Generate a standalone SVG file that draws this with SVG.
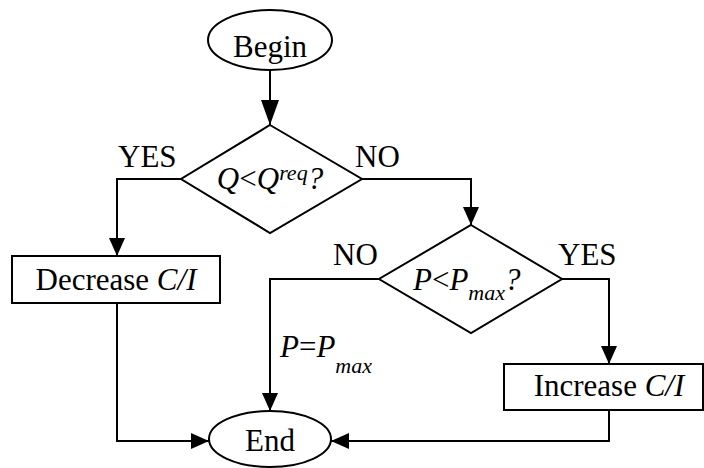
<svg xmlns="http://www.w3.org/2000/svg" width="704" height="468" viewBox="0 0 704 468">
<style>
.s{fill:#fff;stroke:#000;stroke-width:2}
.c{fill:none;stroke:#000;stroke-width:2}
.t{font-family:"Liberation Serif","Times New Roman",serif;font-size:31px;fill:#000}
.i{font-style:italic}
</style>
<defs>
<marker id="a" markerUnits="userSpaceOnUse" markerWidth="18" markerHeight="16" viewBox="0 0 18 16" refX="18" refY="8" orient="auto"><path d="M0,0L18,8L0,16Z" fill="#000"/></marker>
<marker id="b" markerUnits="userSpaceOnUse" markerWidth="25" markerHeight="18" viewBox="0 0 25 18" refX="25" refY="9" orient="auto"><path d="M0,0L25,9L0,18Z" fill="#000"/></marker>
</defs>
<g id="connectors">
<path class="c" d="M270,70V125" marker-end="url(#b)"/>
<path class="c" d="M181,179H117V256" marker-end="url(#a)"/>
<path class="c" d="M362,179H471V225" marker-end="url(#a)"/>
<path class="c" d="M379,279H270V411" marker-end="url(#a)"/>
<path class="c" d="M562,279H609V364" marker-end="url(#a)"/>
<path class="c" d="M117,303V441H209" marker-end="url(#a)"/>
<path class="c" d="M609,410V441H331" marker-end="url(#a)"/>
</g>
<g id="begin"><ellipse class="s" cx="270" cy="40" rx="62" ry="30"/><text class="t" x="270" y="57" text-anchor="middle">Begin</text></g>
<g id="d1"><path class="s" d="M270,125L362,179L270,233L181,179Z"/><text class="t" x="270" y="189" text-anchor="middle"><tspan class="i">Q</tspan>&lt;<tspan class="i">Q</tspan><tspan class="i" font-size="22" dy="-9">req</tspan><tspan class="i" dy="9">?</tspan></text></g>
<g id="dec"><rect class="s" x="12" y="256" width="208" height="47"/><text class="t" x="116" y="290" text-anchor="middle">Decrease <tspan class="i">C/I</tspan></text></g>
<g id="d2"><path class="s" d="M471,225L562,279L471,333L379,279Z"/><text class="t" x="413" y="290"><tspan class="i">P</tspan>&lt;<tspan class="i">P</tspan><tspan class="i" font-size="22" dy="10">max</tspan><tspan class="i" dy="-10">?</tspan></text></g>
<g id="inc"><rect class="s" x="504" y="364" width="199" height="46"/><text class="t" x="609" y="396" text-anchor="middle">Increase <tspan class="i">C/I</tspan></text></g>
<g id="end"><ellipse class="s" cx="270" cy="439" rx="61" ry="28"/><text class="t" x="270" y="451" text-anchor="middle">End</text></g>
<g id="labels">
<text class="t" x="118" y="167">YES</text>
<text class="t" x="355" y="167">NO</text>
<text class="t" x="333" y="265">NO</text>
<text class="t" x="558" y="265">YES</text>
<text class="t" x="280" y="357"><tspan class="i">P</tspan>=<tspan class="i">P</tspan><tspan class="i" font-size="22" dy="16">max</tspan></text>
</g>
</svg>
